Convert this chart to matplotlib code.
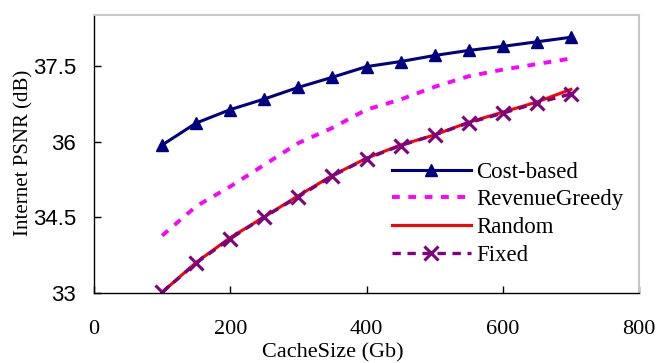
import matplotlib
matplotlib.use("Agg")
import matplotlib.pyplot as plt

plt.rcParams['font.family'] = ['Liberation Serif', 'DejaVu Serif']

cache_size = [100, 150, 200, 250, 300, 350, 400, 450, 500, 550, 600, 650, 700]
cost_based = [35.93, 36.365, 36.63, 36.84, 37.07, 37.27, 37.48, 37.58, 37.70, 37.80, 37.88, 37.97, 38.06]
revenue_greedy = [34.14, 34.72, 35.11, 35.54, 35.97, 36.27, 36.63, 36.83, 37.08, 37.29, 37.42, 37.53, 37.64]
random_ = [33.02, 33.61, 34.10, 34.51, 34.93, 35.33, 35.67, 35.93, 36.13, 36.38, 36.58, 36.78, 37.03]
fixed = [33.02, 33.60, 34.08, 34.51, 34.91, 35.32, 35.66, 35.92, 36.13, 36.37, 36.56, 36.76, 36.94]

xticks = [0, 200, 400, 600, 800]
yticks = [33, 34.5, 36, 37.5]
ytick_labels = ['33', '34.5', '36', '37.5']

fig = plt.figure(figsize=(6.58, 3.63), dpi=100)
ax = fig.add_axes([94/658, 1-293.3/363, (639-94)/658, (293.3-15)/363])

ax.plot(cache_size, cost_based, color='#000080', lw=2.2, marker='^', ms=9, label='Cost-based')
ax.plot(cache_size, revenue_greedy, color='#FF00FF', lw=2.8, ls=(0, (2.0, 2.2)), label='RevenueGreedy')
ax.plot(cache_size, random_, color='#FF0000', lw=2.2, label='Random')
ax.plot(cache_size, fixed, color='#800080', lw=2.4, ls=(0, (2.5, 2.0)), marker='x', ms=10, mew=2.2, label='Fixed')

ax.set_xlim(0, 800)
ax.set_ylim(33, 38.5)
ax.set_xticks(xticks)
ax.set_yticks(yticks)
ax.set_yticklabels(ytick_labels, family=['Liberation Sans Narrow', 'Liberation Sans', 'DejaVu Sans'])
ax.tick_params(direction='in', length=5, width=1, labelsize=16)
ax.tick_params(axis='x', pad=19)
ax.tick_params(axis='y', pad=13)
for s in ['top', 'right']:
    ax.spines[s].set_color('#c8c8c8')
    ax.spines[s].set_linewidth(1.5)
for s in ['left', 'bottom']:
    ax.spines[s].set_color('black')
    ax.spines[s].set_linewidth(1)

ax.set_xlabel('CacheSize (Gb)', fontsize=16, labelpad=0)
ax.xaxis.set_label_coords((333-94)/545, -(343-293.3)/278.3)
ax.set_ylabel('Internet PSNR (dB)', fontsize=15)
ax.yaxis.set_label_coords(-(94-33)/545, (293.3-153)/278.3)

leg = ax.legend(loc='upper left', bbox_to_anchor=((392-94)/545, (293.3-161.5)/278.3), frameon=False,
                fontsize=16.5, handlelength=3.43, handletextpad=0.26, labelspacing=0.29,
                borderpad=0, borderaxespad=0)

fig.savefig('out.png', dpi=100)
